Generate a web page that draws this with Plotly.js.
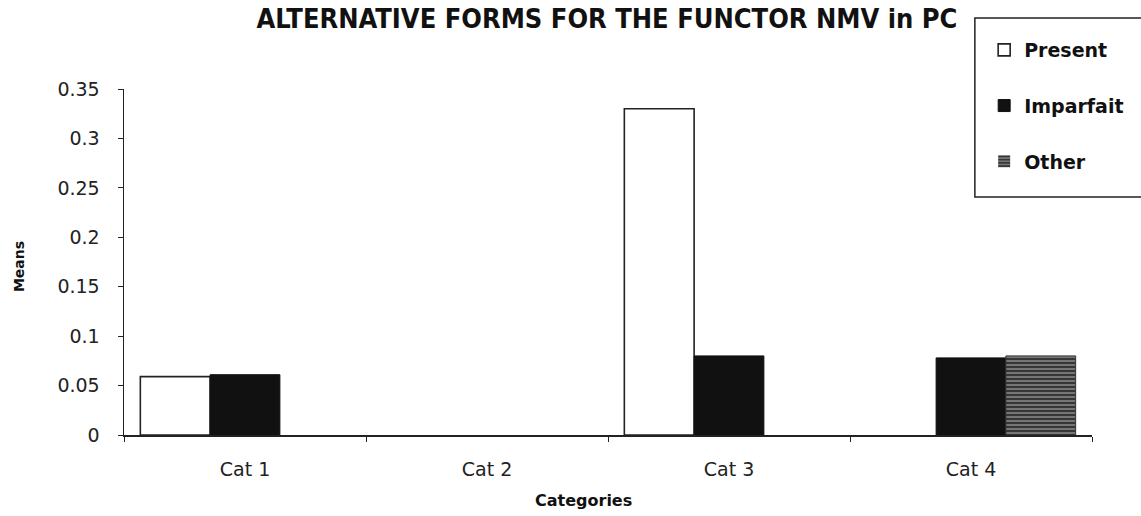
<!DOCTYPE html>
<html>
<head>
<meta charset="utf-8">
<script src="https://cdn.plot.ly/plotly-3.0.1.min.js"></script>
<style>
  html, body { margin: 0; padding: 0; background: #fff; }
  #chart { width: 1141px; height: 516px; }
</style>
</head>
<body>
<div id="chart"></div>
<script>
// Categories and mean values per verb form
const categories = ['Cat 1', 'Cat 2', 'Cat 3', 'Cat 4'];
const seriesNames = ['Present', 'Imparfait', 'Other'];
const presentMeans = [0.059, 0, 0.330, 0];
const imparfaitMeans = [0.061, 0, 0.080, 0.078];
const otherMeans = [0, 0, 0, 0.080];
const yTicks = [0, 0.05, 0.1, 0.15, 0.2, 0.25, 0.3, 0.35];
const yTickLabels = ['0', '0.05', '0.1', '0.15', '0.2', '0.25', '0.3', '0.35'];

const baseFont = 'DejaVu Sans, Verdana, sans-serif';

// Empty bars get no outline so nothing shows on the baseline
const outline = (vals, w) => vals.map(v => (v > 0 ? w : 0));

const traces = [
  {
    type: 'bar', name: seriesNames[0], x: categories, y: presentMeans,
    legendgroup: 'a',
    marker: { color: '#ffffff', line: { color: '#222', width: outline(presentMeans, 1.6) } }
  },
  {
    type: 'bar', name: seriesNames[1], x: categories, y: imparfaitMeans,
    legendgroup: 'b',
    marker: { color: '#111111', line: { color: '#111', width: outline(imparfaitMeans, 1) } }
  },
  {
    type: 'bar', name: seriesNames[2], x: categories, y: otherMeans,
    legendgroup: 'c',
    marker: {
      color: '#5e5e5e',
      line: { color: '#333', width: outline(otherMeans, 1) },
      pattern: { shape: '-', bgcolor: '#767676', fgcolor: '#363636', size: 4, solidity: 0.5 }
    }
  }
];

const layout = {
  width: 1141, height: 516,
  paper_bgcolor: '#ffffff', plot_bgcolor: '#ffffff',
  margin: { l: 124, r: 39, t: 89, b: 81 },
  barmode: 'group', bargap: 0.135, bargroupgap: 0,
  showlegend: true,
  font: { family: baseFont, color: '#222', size: 19 },
  title: {
    text: '<b>ALTERNATIVE FORMS FOR THE FUNCTOR NMV in PC</b>',
    font: { family: 'DejaVu Sans Condensed, Liberation Sans Narrow, Arial Narrow, sans-serif', size: 27, color: '#111' },
    x: 607 / 1141, xanchor: 'center', y: 0.964, yanchor: 'middle'
  },
  xaxis: {
    type: 'category', categoryorder: 'array', categoryarray: categories,
    range: [-0.5, 3.5],
    showline: true, linecolor: '#222', linewidth: 1.5,
    ticks: 'outside', tickson: 'boundaries', ticklen: 5, tickcolor: '#222',
    showgrid: false, zeroline: false,
    ticklabelstandoff: 17,
    tickfont: { size: 19, color: '#222' }
  },
  yaxis: {
    range: [0, 0.35],
    tickvals: yTicks, ticktext: yTickLabels,
    showline: true, linecolor: '#222', linewidth: 1.5,
    ticks: 'outside', ticklen: 5, tickcolor: '#222',
    showgrid: false, zeroline: false,
    ticklabelstandoff: 14,
    tickfont: { size: 19, color: '#222' }
  },
  legend: {
    x: 0.8886, xanchor: 'left', y: 1.1676, yanchor: 'top',
    bgcolor: 'rgba(0,0,0,0)', borderwidth: 0,
    tracegroupgap: 28,
    font: { size: 19, color: '#111', family: baseFont, weight: 'bold' },
    itemwidth: 30
  },
  annotations: [
    {
      text: '<b>Categories</b>', xref: 'paper', yref: 'paper',
      x: (588 - 124) / 978, y: (435 - 500) / 346, xanchor: 'center', yanchor: 'middle',
      showarrow: false, font: { size: 16, color: '#111', family: baseFont }
    },
    {
      text: '<b>Means</b>', xref: 'paper', yref: 'paper', textangle: -90,
      x: (18 - 124) / 978, y: (435 - 267) / 346, xanchor: 'center', yanchor: 'middle',
      showarrow: false, font: { size: 14, color: '#111', family: baseFont }
    }
  ],
  shapes: [
    {
      type: 'rect', xref: 'paper', yref: 'paper',
      x0: 0.879, x1: 1.06, y0: 0.688, y1: 1.205,
      line: { color: '#222', width: 1.5 }, fillcolor: 'rgba(0,0,0,0)', layer: 'above'
    }
  ]
};

Plotly.newPlot('chart', traces, layout, { displayModeBar: false, staticPlot: true });
</script>
</body>
</html>
